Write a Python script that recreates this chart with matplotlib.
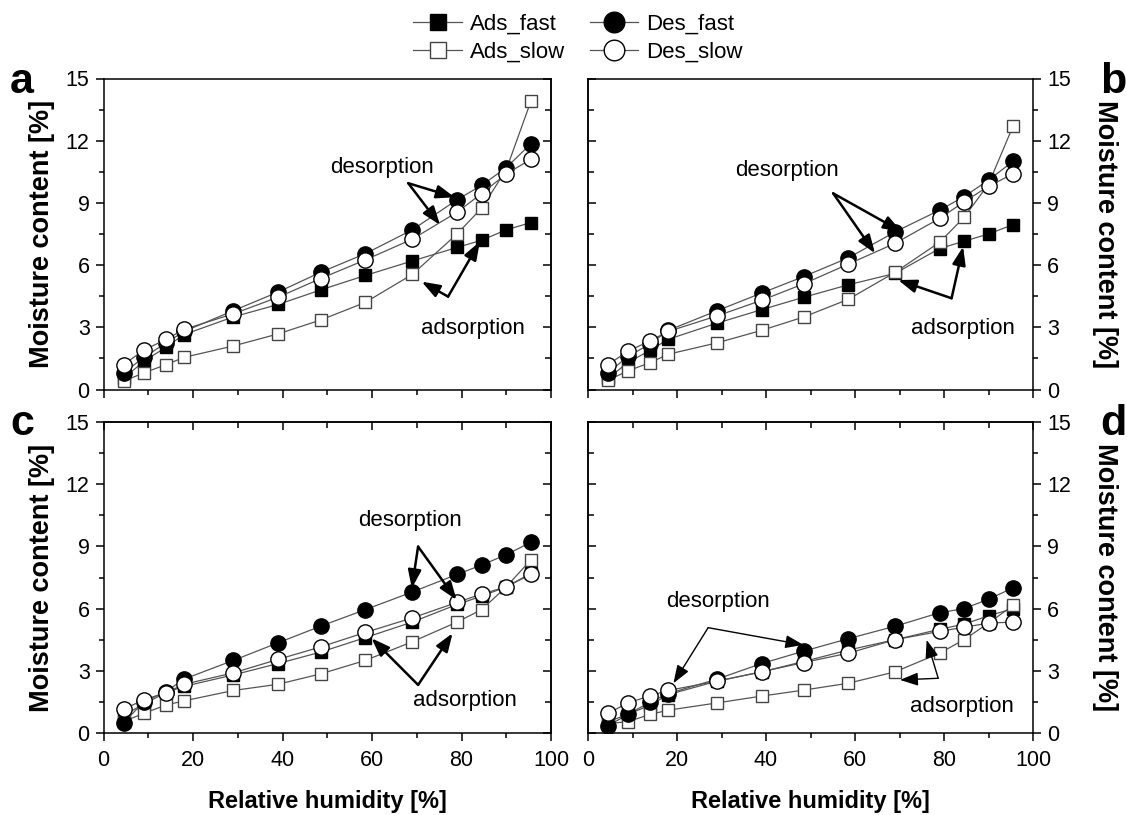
import matplotlib
matplotlib.use("Agg")
import matplotlib.pyplot as plt
from matplotlib.ticker import MultipleLocator

plt.rcParams['font.family'] = ['Liberation Sans', 'DejaVu Sans']

rh = [4.5, 9, 14, 18, 29, 39, 48.5, 58.5, 69, 79, 84.5, 90, 95.5]

# Panel a
a_ads_fast = [0.55, 1.35, 2.05, 2.65, 3.5, 4.1, 4.8, 5.5, 6.2, 6.85, 7.2, 7.7, 8.05]
a_ads_slow = [0.4, 0.8, 1.2, 1.55, 2.1, 2.68, 3.35, 4.2, 5.55, 7.5, 8.75, 10.6, 13.9]
a_des_fast = [0.8, 1.55, 2.25, 2.8, 3.8, 4.7, 5.65, 6.55, 7.7, 9.15, 9.85, 10.7, 11.85]
a_des_slow = [1.2, 1.9, 2.42, 2.9, 3.65, 4.45, 5.35, 6.25, 7.25, 8.55, 9.45, 10.4, 11.1]

# Panel b
b_ads_fast = [0.55, 1.3, 1.9, 2.42, 3.2, 3.85, 4.45, 5.05, 5.6, 6.8, 7.15, 7.5, 7.95]
b_ads_slow = [0.45, 0.9, 1.3, 1.7, 2.25, 2.85, 3.5, 4.35, 5.65, 7.1, 8.3, 9.9, 12.7]
b_des_fast = [0.8, 1.6, 2.2, 2.85, 3.8, 4.65, 5.45, 6.35, 7.6, 8.65, 9.3, 10.1, 11.0]
b_des_slow = [1.2, 1.85, 2.35, 2.8, 3.55, 4.3, 5.1, 6.05, 7.05, 8.25, 9.05, 9.8, 10.4]

# Panel c
c_ads_fast = [0.85, 1.4, 1.95, 2.25, 2.8, 3.35, 3.9, 4.6, 5.35, 6.2, 6.6, 7.05, 7.7]
c_ads_slow = [0.55, 0.95, 1.35, 1.55, 2.05, 2.35, 2.85, 3.5, 4.4, 5.35, 5.95, 7.05, 8.35]
c_des_fast = [0.5, 1.5, 2.0, 2.6, 3.5, 4.35, 5.15, 5.95, 6.8, 7.65, 8.1, 8.6, 9.2]
c_des_slow = [1.15, 1.6, 1.95, 2.35, 2.9, 3.55, 4.15, 4.85, 5.55, 6.3, 6.7, 7.05, 7.65]

# Panel d
d_ads_fast = [0.55, 0.9, 1.35, 1.85, 2.5, 2.95, 3.45, 4.0, 4.5, 5.0, 5.25, 5.65, 6.0]
d_ads_slow = [0.45, 0.55, 0.9, 1.1, 1.45, 1.78, 2.07, 2.4, 2.95, 3.85, 4.5, 5.3, 6.15]
d_des_fast = [0.35, 0.9, 1.5, 1.9, 2.6, 3.35, 3.95, 4.55, 5.15, 5.8, 6.0, 6.45, 7.0]
d_des_slow = [0.95, 1.45, 1.8, 2.05, 2.5, 2.95, 3.4, 3.85, 4.5, 4.9, 5.1, 5.3, 5.35]

series_names = ["Ads_fast", "Ads_slow", "Des_fast", "Des_slow"]
panels = {
    "a": [a_ads_fast, a_ads_slow, a_des_fast, a_des_slow],
    "b": [b_ads_fast, b_ads_slow, b_des_fast, b_des_slow],
    "c": [c_ads_fast, c_ads_slow, c_des_fast, c_des_slow],
    "d": [d_ads_fast, d_ads_slow, d_des_fast, d_des_slow],
}

# annotations: (text_xy, tail_xy, [heads]) in data coords
annots = {
    "a": {"des": ((62.2, 10.72), (68.1, 9.95), [(78.5, 9.27), (75.2, 7.94)]),
          "ads": ((82.6, 2.95), (77.0, 4.48), [(84.1, 7.13), (71.1, 5.2)])},
    "b": {"des": ((44.7, 10.54), (55.1, 9.46), [(70.5, 7.61), (64.5, 6.57)]),
          "ads": ((84.3, 2.95), (81.7, 4.40), [(84.3, 6.89), (69.7, 5.28)])},
    "c": {"des": ((68.5, 10.24), (70.3, 8.99), [(68.9, 6.98), (78.9, 6.42)]),
          "ads": ((80.8, 1.56), (70.3, 2.32), [(59.9, 4.57), (78.0, 4.81)])},
    "d": {"des": ((29.3, 6.33), (27.0, 5.08), [(48.4, 4.25), (19.2, 2.40)]),
          "ads": ((84.0, 1.30), (78.7, 2.64), [(76.1, 4.49), (70.1, 2.56)])},
}

W, H = 1127, 815
fig = plt.figure(figsize=(W / 100, H / 100), dpi=100)

def fx(px):
    return px / W

def fy(py):
    return 1 - py / H

rects = {
    "a": (103.5, 78.5, 551, 389.5),
    "b": (588, 78.5, 1033, 389.5),
    "c": (103.5, 422, 551, 733),
    "d": (588, 422, 1033, 733),
}

styles = [
    dict(marker='s', ms=8.5, mfc='black', mec='black', mew=1.0),
    dict(marker='s', ms=8.5, mfc='white', mec='#444444', mew=1.0),
    dict(marker='o', ms=11, mfc='black', mec='black', mew=1.0),
    dict(marker='o', ms=11, mfc='white', mec='black', mew=1.0),
]

TFS = 15.5
YLFS = 19.5
handles = []
for key, (l, t, r, b) in rects.items():
    ax = fig.add_axes([fx(l), fy(b), fx(r) - fx(l), fy(t) - fy(b)])
    for vals, st, name in zip(panels[key], styles, series_names):
        h, = ax.plot(rh, vals, color='#555555', lw=0.9, label=name, **st)
        if key == "a":
            handles.append(h)
    ax.set_xlim(0, 100)
    ax.set_ylim(0, 15)
    ax.xaxis.set_major_locator(MultipleLocator(20))
    ax.xaxis.set_minor_locator(MultipleLocator(10))
    ax.yaxis.set_major_locator(MultipleLocator(3))
    ax.yaxis.set_minor_locator(MultipleLocator(1.5))
    for sp in ax.spines.values():
        sp.set_linewidth(1.1)
    right = key in ("b", "d")
    bottom_row = key in ("c", "d")
    # y axis
    if right:
        ax.yaxis.tick_right()
        ax.tick_params(axis='y', which='both', direction='out', right=True, left=False,
                       labelright=True, labelleft=False, labelsize=TFS)
        ax.yaxis.set_label_position('right')
        ax.set_ylabel("Moisture content [%]", fontsize=YLFS, fontweight='bold',
                      rotation=270, labelpad=34)
        ax.tick_params(axis='y', which='major', length=6, width=1.1, pad=4)
        ax.tick_params(axis='y', which='minor', length=3.5, width=1.1)
        axl = ax.secondary_yaxis('left')
        axl.yaxis.set_major_locator(MultipleLocator(3))
        axl.yaxis.set_minor_locator(MultipleLocator(1.5))
        axl.tick_params(axis='y', which='major', direction='in', length=6, width=1.1, labelleft=False)
        axl.tick_params(axis='y', which='minor', direction='in', length=4, width=1.1)
        axl.spines['left'].set_linewidth(1.1)
    else:
        ax.tick_params(axis='y', which='both', direction='out', labelsize=TFS)
        ax.tick_params(axis='y', which='major', length=6, width=1.1, pad=4)
        ax.tick_params(axis='y', which='minor', length=3.5, width=1.1)
        ax.set_ylabel("Moisture content [%]", fontsize=YLFS, fontweight='bold', labelpad=8)
        axr = ax.secondary_yaxis('right')
        axr.yaxis.set_major_locator(MultipleLocator(3))
        axr.yaxis.set_minor_locator(MultipleLocator(1.5))
        axr.tick_params(axis='y', which='major', direction='in', length=6, width=1.1, labelright=False)
        axr.tick_params(axis='y', which='minor', direction='in', length=4, width=1.1)
        axr.spines['right'].set_linewidth(1.1)
    # x axis
    ax.tick_params(axis='x', which='major', direction='out', length=6, width=1.1, labelsize=TFS, pad=6)
    ax.tick_params(axis='x', which='minor', direction='out', length=3.5, width=1.1)
    if bottom_row:
        ax.set_xlabel("Relative humidity [%]", fontsize=17, fontweight='bold', labelpad=14)
        axt = ax.secondary_xaxis('top')
        axt.xaxis.set_major_locator(MultipleLocator(20))
        axt.xaxis.set_minor_locator(MultipleLocator(10))
        axt.tick_params(axis='x', which='major', direction='in', length=6, width=1.1, labeltop=False)
        axt.tick_params(axis='x', which='minor', direction='in', length=4, width=1.1)
        axt.spines['top'].set_linewidth(1.1)
    else:
        ax.tick_params(axis='x', labelbottom=False)
    # annotations
    lw = 1.0 if key == "d" else 1.8
    ms = 20
    astyle = '-|>,head_length=0.55,head_width=0.2'
    for kind in ("des", "ads"):
        txy, tail, heads = annots[key][kind]
        ax.text(txy[0], txy[1], "desorption" if kind == "des" else "adsorption",
                fontsize=16, ha='center', va='center')
        for hd in heads:
            ax.annotate("", xy=hd, xytext=tail,
                        arrowprops=dict(arrowstyle=astyle, lw=lw, color='black',
                                        mutation_scale=ms, shrinkA=0, shrinkB=0))

# panel letters
fig.text(fx(10), fy(93), "a", fontsize=31, fontweight='bold', va='baseline', ha='left')
fig.text(fx(1100), fy(93), "b", fontsize=31, fontweight='bold', va='baseline', ha='left')
fig.text(fx(10), fy(435), "c", fontsize=31, fontweight='bold', va='baseline', ha='left')
fig.text(fx(1100), fy(435), "d", fontsize=31, fontweight='bold', va='baseline', ha='left')

fig.legend(handles=handles, labels=series_names, ncol=2, loc='upper center',
           bbox_to_anchor=(fx(578), fy(0)), frameon=False, fontsize=16,
           handlelength=2.2, handletextpad=0.35, columnspacing=1.1,
           labelspacing=0.35, markerscale=1.35, borderpad=0.1)

fig.savefig("out.png", dpi=100)
